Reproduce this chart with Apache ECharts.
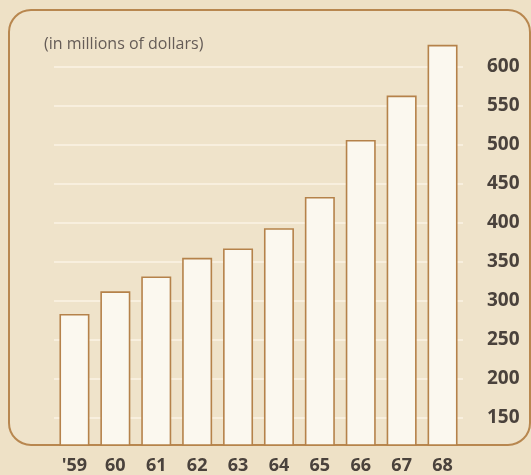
<!DOCTYPE html>
<html><head><meta charset="utf-8">
<script src="https://cdn.jsdelivr.net/npm/echarts@6/dist/echarts.min.js"></script>
<style>html,body{margin:0;padding:0;background:#eee1c6}#c{width:531px;height:475px}</style>
</head><body><div id="c"></div>
<script>
const years = ["'59","60","61","62","63","64","65","66","67","68"];
const values = [283, 312, 331, 355, 367, 393, 433, 506, 563, 628];
const yTicks = [150, 200, 250, 300, 350, 400, 450, 500, 550, 600];
const unitLabel = "(in millions of dollars)";

const chart = echarts.init(document.getElementById('c'));
chart.setOption({
  backgroundColor: '#eee1c6',
  animation: false,
  graphic: [
    { type: 'rect', z: -10, shape: { x: 9, y: 10, width: 521, height: 435, r: 22 },
      style: { fill: '#efe3ca', stroke: '#b8874f', lineWidth: 2 } },
    { type: 'text', left: 44, top: 36, style: { text: unitLabel, fill: '#655c57',
      font: '500 16px "Open Sans", sans-serif' } }
  ],
  grid: { left: 54, right: 68, top: 35.5, bottom: 30 },
  xAxis: {
    type: 'category', data: years,
    axisLine: { show: false }, axisTick: { show: false },
    axisLabel: { color: '#4a423c', fontWeight: 'bold', fontSize: 18, margin: 12,
      fontFamily: '"Open Sans", sans-serif' }
  },
  yAxis: {
    type: 'value', position: 'right', min: 115, max: 640,
    axisLine: { show: false },
    axisTick: { show: false, customValues: yTicks },
    axisLabel: { customValues: yTicks, color: '#4a423c', fontWeight: 'bold', fontSize: 19,
      margin: 24, fontFamily: '"Open Sans", sans-serif' },
    splitLine: { show: true, lineStyle: { color: 'rgba(255,250,238,0.55)', width: 2 } }
  },
  series: [{
    type: 'bar', data: values, barWidth: 30,
    itemStyle: { color: '#fbf8ef', borderColor: '#b5824a', borderWidth: 1.6 }
  }]
});
</script></body></html>
